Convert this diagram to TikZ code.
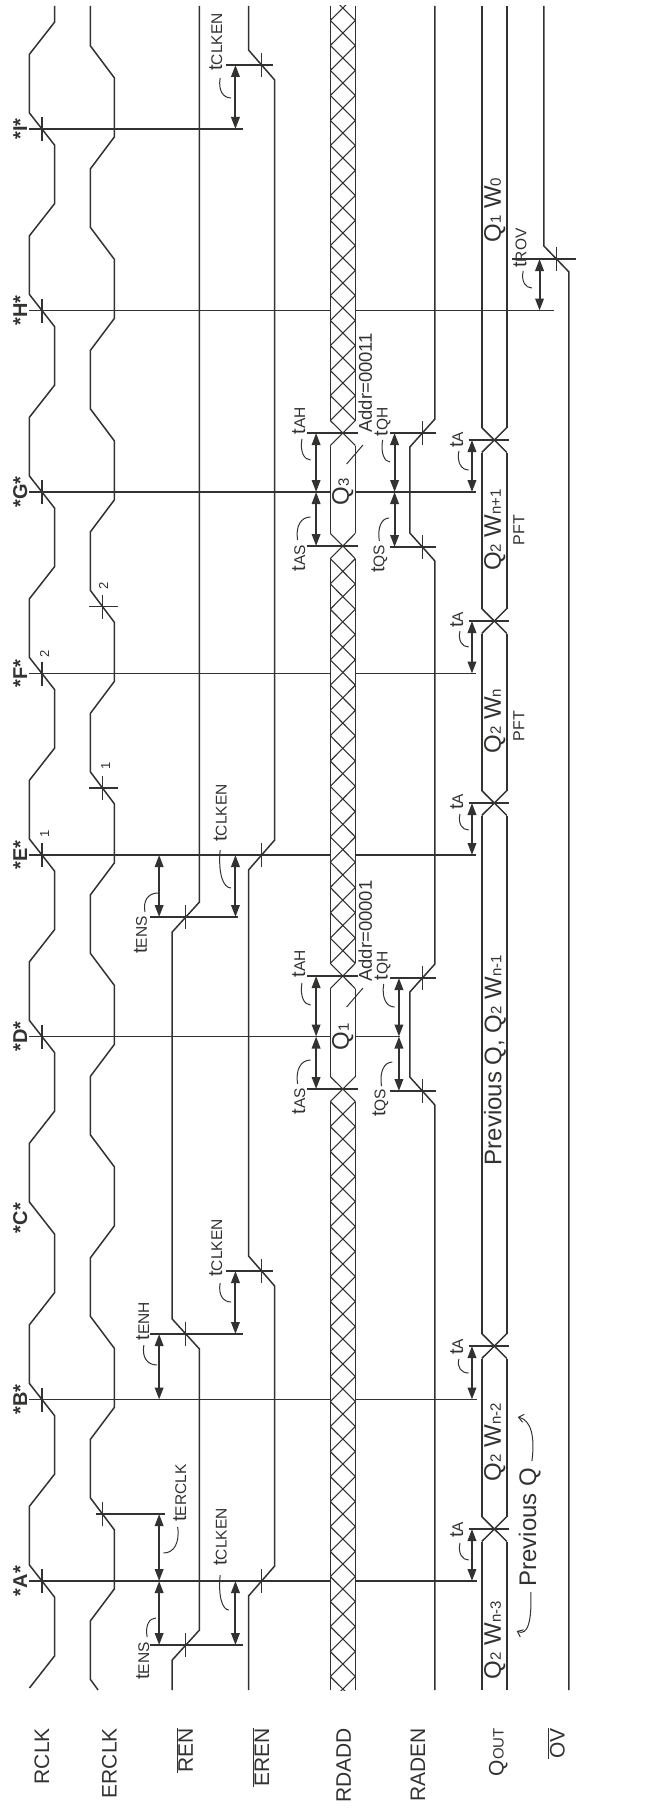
\documentclass[tikz,border=0pt]{standalone}
\usepackage{fontspec}
\setmainfont{Liberation Sans}
\usetikzlibrary{arrows.meta}
\definecolor{ink}{RGB}{50,50,48}
\newcommand{\tlab}[1]{{\fontsize{20}{20}\selectfont t}{\fontsize{15.5}{16}\selectfont #1}}
\newcommand{\dsub}[1]{{\fontsize{15}{15}\selectfont #1}}
\newcommand{\leadc}[4]{\draw[lead] (#1,#2) .. controls ({#1-2*sign(#3-#1)},{#2+0.6*(#4-#2)}) and ({#1+0.25*(#3-#1)},#4) .. (#3,#4);}
\begin{document}
\begin{tikzpicture}[x=1.09pt,y=-1pt,
  sig/.style={ink,line width=1.5pt},
  ref/.style={ink,line width=1.3pt},
  hatch/.style={ink,line width=1.1pt},
  lead/.style={ink,line width=1pt},
  dim/.style={ink,line width=2pt,{Triangle[length=12pt,width=8.5pt]}-{Triangle[length=12pt,width=8.5pt]}},
  lbl/.style={rotate=90,inner sep=0pt,text=ink},
  signame/.style={lbl,anchor=base east,font=\fontsize{21}{21}\selectfont},
  edgename/.style={lbl,anchor=base,font=\fontsize{20}{20}\selectfont\bfseries},
  dat/.style={lbl,font=\fontsize{24}{24}\selectfont},
  small/.style={lbl,font=\fontsize{13}{13}\selectfont}]
\useasboundingbox (0,0) rectangle (600,1809);

% ---------- RCLK ----------
\draw[sig] (27,1688) -- (50,1656)
  \foreach \k in {0,...,8}{ -- (50,{1597-181.5*\k}) -- (27,{1565-181.5*\k}) -- (27,{1506.25-181.5*\k}) -- (50,{1474.25-181.5*\k}) } -- (50,6);
% ---------- ERCLK ----------
\draw[sig] (90,1690) -- (83,1679.5)
  \foreach \k in {0,...,8}{ -- (83,{1620.75-181.5*\k}) -- (105,{1588.75-181.5*\k}) -- (105,{1530-181.5*\k}) -- (83,{1498-181.5*\k}) } -- (83,6);
% ---------- REN ----------
\draw[sig] (158,1690) -- (158,1660) -- (183,1630) -- (183,1349) -- (158,1319) -- (158,932) -- (183,902) -- (183,6);
% ---------- EREN ----------
\draw[sig] (228,1690) -- (228,1596) -- (252,1566) -- (252,1286) -- (228,1256) -- (228,870) -- (252,840) -- (252,80) -- (228,50) -- (228,6);
% ---------- RADEN ----------
\draw[sig] (399,1690) -- (399,1105) -- (376,1077) -- (376,992) -- (399,964) -- (399,561) -- (376,533) -- (376,447) -- (399,419) -- (399,6);
% ---------- OV ----------
\draw[sig] (522,1690) -- (522,272) -- (499,246) -- (499,6);

% ---------- RDADD bus ----------
\foreach \a/\b in {6/420.5, 445.5/533.35, 558.65/963.35, 988.65/1076.5, 1101.5/1690}{
  \draw[sig] (303,\a) -- (303,\b); \draw[sig] (326,\a) -- (326,\b);}
\begin{scope}
\clip (280,6) rectangle (350,1690);
\foreach \j in {0,...,17}{
  \draw[hatch] (303,{445.5-25*\j}) -- (326,{420.5-25*\j});
  \draw[hatch] (326,{445.5-25*\j}) -- (303,{420.5-25*\j});
  \draw[hatch] (303,{533.35+25.294*\j}) -- (326,{558.644+25.294*\j});
  \draw[hatch] (326,{533.35+25.294*\j}) -- (303,{558.644+25.294*\j});}
\foreach \j in {0,...,24}{
  \draw[hatch] (303,{1076.5+25*\j}) -- (326,{1101.5+25*\j});
  \draw[hatch] (326,{1076.5+25*\j}) -- (303,{1101.5+25*\j});}
\end{scope}

% ---------- QOUT bus ----------
\foreach \a/\b in {6/427.5, 452.5/608.5, 633.5/790.5, 815.5/1333.5, 1358.5/1516.5, 1541.5/1690}{
  \draw[sig] (442,\a) -- (442,\b); \draw[sig] (465,\a) -- (465,\b);}
\foreach \c in {440,621,803,1346,1529}{
  \draw[sig] (442,{\c-12.5}) -- (465,{\c+12.5});
  \draw[sig] (465,{\c-12.5}) -- (442,{\c+12.5});}

% ---------- clock edge reference lines ----------
\foreach \y/\e in {310.5/508, 492/437, 673.5/437, 855/437, 1036.5/367, 1399.5/438, 1581/438}{
  \draw[ref] (27,\y) -- (303,\y); \draw[ref] (326,\y) -- (\e,\y);}
\draw[ref] (27,129) -- (223,129);
\foreach \y in {129,310.5,492,673.5,855,1036.5,1399.5,1581}
  \draw[ref] (38.5,{\y-12}) -- (38.5,{\y+12});

% ---------- other reference lines and ticks ----------
\foreach \y/\e in {1645/223,1334/223,917/218}{
  \draw[ref] (138,\y) -- (\e,\y); \draw[ref] (170.5,{\y-12}) -- (170.5,{\y+12});}
\foreach \y in {1271,65} \draw[ref] (207,\y) -- (250,\y);
\foreach \y in {1581,1271,855,65} \draw[ref] (240,{\y-12}) -- (240,{\y+12});
\draw[ref] (88,1514) -- (151,1514); \draw[ref] (94,1502) -- (94,1526);
\foreach \y in {788,606.5}{
  \draw[ref] (82,\y) -- (108,\y); \draw[ref] (94,{\y-12}) -- (94,{\y+12});}
\foreach \y in {433,546,976,1089} \draw[ref] (282,\y) -- (328,\y);
\foreach \y in {433,547,978,1091}{
  \draw[ref] (358,\y) -- (400,\y); \draw[ref] (387.5,{\y-12}) -- (387.5,{\y+12});}
\foreach \y in {440,621,803,1346,1529} \draw[ref] (430,\y) -- (467,\y);
\draw[ref] (470,259) -- (528,259); \draw[ref] (510.5,247) -- (510.5,271);

% ---------- dimension arrows ----------
\foreach \x/\a/\b in {216/65/129, 216/855/917, 216/1271/1334, 216/1581/1645,
  146/1514/1581, 146/1581/1645, 146/1334/1399.5, 146/855/917,
  290/976/1036.5, 290/1036.5/1089, 290/433/492, 290/492/546,
  366/978/1036.5, 366/1036.5/1091, 362/433/492, 362/492/547,
  433/1529/1581, 433/1346/1399.5, 433/803/855, 433/621/673.5, 433/440/492,
  495/259/310.5}
  \draw[dim] (\x,\a) -- (\x,\b);

% ---------- timing labels ----------
\node[lbl] (lc1) at (198,42) {\tlab{CLKEN}};
\node[lbl] (lc2) at (202,813) {\tlab{CLKEN}};
\node[lbl] (lc3) at (198,1248) {\tlab{CLKEN}};
\node[lbl] (lc4) at (202,1537) {\tlab{CLKEN}};
\node[lbl] (ler) at (165,1493) {\tlab{ERCLK}};
\node[lbl] (les1) at (131,1661) {\tlab{ENS}};
\node[lbl] (leh) at (131,1321) {\tlab{ENH}};
\node[lbl] (les2) at (129,935) {\tlab{ENS}};
\node[lbl] (lah1) at (274,964) {\tlab{AH}};
\node[lbl] (las1) at (274,1101) {\tlab{AS}};
\node[lbl] (lah2) at (274,421) {\tlab{AH}};
\node[lbl] (las2) at (274,558) {\tlab{AS}};
\node[lbl] (lqh1) at (351,966) {\tlab{QH}};
\node[lbl] (lqs1) at (349,1103) {\tlab{QS}};
\node[lbl] (lqh2) at (351,422) {\tlab{QH}};
\node[lbl] (lqs2) at (348,559) {\tlab{QS}};
\node[lbl] (la1) at (419,1530) {\tlab{A}};
\node[lbl] (la2) at (419,1347) {\tlab{A}};
\node[lbl] (la3) at (419,802) {\tlab{A}};
\node[lbl] (la4) at (419,620) {\tlab{A}};
\node[lbl] (la5) at (419,440) {\tlab{A}};
\node[lbl] (lrov) at (477,248) {\tlab{ROV}};

% ---------- leaders ----------
\leadc{202}{78}{212}{98}
\leadc{202}{850}{212}{888}
\leadc{202}{1283}{212}{1302}
\leadc{202}{1575}{210}{1610}
\leadc{163}{1527}{150}{1553}
\leadc{135}{1637}{143}{1618}
\leadc{132}{1345}{144}{1365}
\leadc{133}{912}{145}{893}
\leadc{277}{983}{285}{1005}
\leadc{273}{1084}{285}{1060}
\leadc{277}{439}{285}{460}
\leadc{273}{540}{285}{517}
\leadc{352}{984}{362}{1007}
\leadc{350}{1086}{360}{1062}
\leadc{351}{440}{358}{462}
\leadc{348}{541}{357}{518}
\leadc{422}{1543}{430}{1560}
\leadc{421}{1359}{430}{1373}
\leadc{422}{814}{430}{830}
\leadc{422}{631}{430}{647}
\leadc{421}{451}{430}{470}
\leadc{480}{271}{488}{288}

% ---------- address labels ----------
\node[lbl,anchor=west,font=\fontsize{18.5}{18.5}\selectfont] (ad1) at (335,982) {Addr=00001};
\node[lbl,anchor=west,font=\fontsize{18.5}{18.5}\selectfont] (ad2) at (335,433) {Addr=00011};
\draw[lead] (318,1007) -- (333,988);
\draw[lead] (318,464) -- (333,445);

% ---------- bus contents ----------
\node[dat] (q1) at (314.5,1037) {Q\dsub{1}};
\node[dat] (q3) at (314.5,492) {Q\dsub{3}};
\node[dat] (d1) at (454,1640) {Q\dsub{2} W\dsub{n-3}};
\node[dat] (d2) at (454,1442) {Q\dsub{2} W\dsub{n-2}};
\node[dat] (d3) at (454,1060) {Previous Q, Q\dsub{2} W\dsub{n-1}};
\node[dat] (d4) at (454,721) {Q\dsub{2} W\dsub{n}};
\node[dat] (d5) at (454,530) {Q\dsub{2} W\dsub{n+1}};
\node[dat] (d6) at (454,210) {Q\dsub{1} W\dsub{0}};
\node[lbl,font=\fontsize{16}{16}\selectfont] (p1) at (476,726) {PFT};
\node[lbl,font=\fontsize{16}{16}\selectfont] (p2) at (476,530) {PFT};
\node[dat] (prev) at (486,1527) {Previous Q};
\draw[lead,-{Straight Barb[length=5pt,width=8pt]}] (487,1592) .. controls (488,1622) and (484,1636) .. (474,1631);
\draw[lead,-{Straight Barb[length=5pt,width=8pt]}] (488,1461) .. controls (491,1436) and (487,1420) .. (475,1417);

% ---------- small edge numbers ----------
\node[small] (n1) at (41,834) {1};
\node[small] (n2) at (41,654) {2};
\node[small] (n3) at (97,766) {1};
\node[small] (n4) at (95,586) {2};

% ---------- edge names ----------
\foreach \n/\y in {A/1581,B/1399.5,C/1218,D/1036.5,E/855,F/673.5,G/492,H/310.5,I/129}
  \node[edgename] at (25,\y) {*\n*};

% ---------- signal names ----------
\node[signame] (s1) at (45,1728) {RCLK};
\node[signame] (s2) at (107,1728) {ERCLK};
\node[signame] (s3) at (177,1728) {$\overline{\hbox{REN}}$};
\node[signame] (s4) at (247,1728) {$\overline{\hbox{EREN}}$};
\node[signame] (s5) at (322,1728) {RDADD};
\node[signame] (s6) at (390,1728) {RADEN};
\node[signame] (s7) at (462,1728) {Q\dsub{OUT}};
\node[signame] (s8) at (518,1728) {$\overline{\hbox{OV}}$};
\end{tikzpicture}
\end{document}
